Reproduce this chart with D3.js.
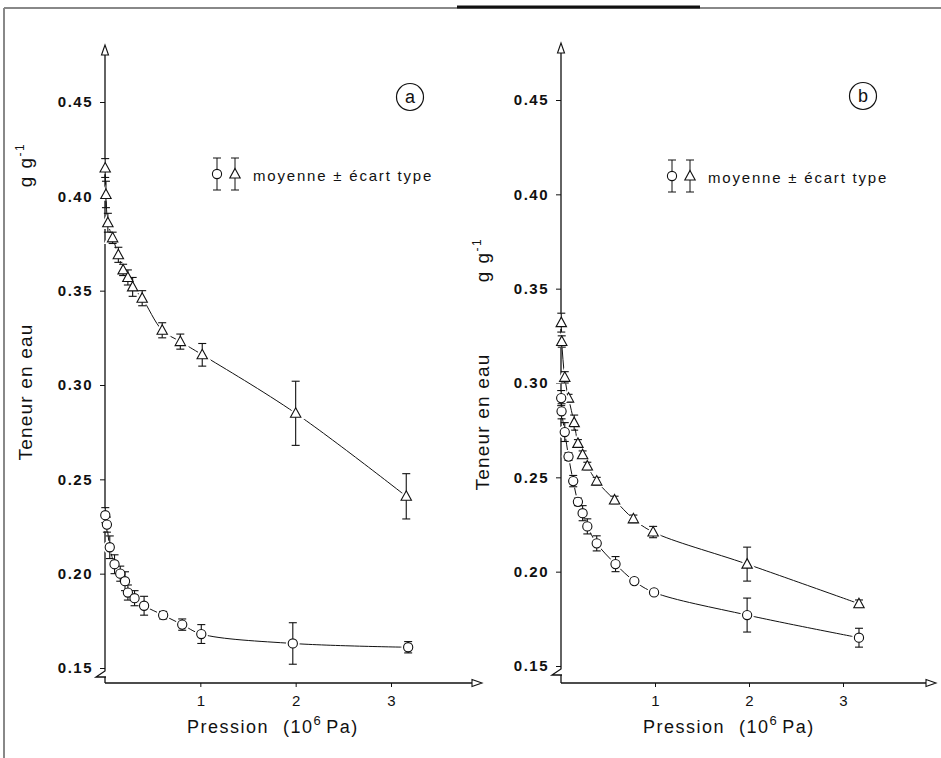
<!DOCTYPE html>
<html>
<head>
<meta charset="utf-8">
<script src="https://cdn.jsdelivr.net/npm/d3@7"></script>
<style>
  body { margin: 0; background: #fff; }
  svg { display: block; font-family: "Liberation Sans", Arial, sans-serif; }
</style>
</head>
<body>
<div id="chart"></div>
<script>
// values: pression (10^6 Pa), teneur en eau (g/g), écart type
const pressA_tri = [0.002, 0.01, 0.03, 0.08, 0.14, 0.19, 0.24, 0.29, 0.39, 0.6, 0.79, 1.02, 2.0, 3.16];
const eauA_tri   = [0.415, 0.401, 0.386, 0.378, 0.369, 0.361, 0.357, 0.352, 0.346, 0.329, 0.323, 0.316, 0.285, 0.241];
const sdA_tri    = [0.005, 0.007, 0.005, 0.003, 0.004, 0.003, 0.004, 0.005, 0.004, 0.004, 0.004, 0.006, 0.017, 0.012];

const pressA_circ = [0.003, 0.02, 0.05, 0.1, 0.16, 0.21, 0.24, 0.31, 0.41, 0.61, 0.81, 1.01, 1.97, 3.18];
const eauA_circ   = [0.231, 0.226, 0.214, 0.205, 0.200, 0.196, 0.190, 0.187, 0.183, 0.178, 0.173, 0.168, 0.163, 0.161];
const sdA_circ    = [0.004, 0.004, 0.006, 0.005, 0.004, 0.005, 0.004, 0.004, 0.005, 0.002, 0.003, 0.005, 0.011, 0.003];

const pressB_tri = [0.003, 0.008, 0.04, 0.08, 0.14, 0.18, 0.23, 0.28, 0.38, 0.57, 0.77, 0.98, 1.98, 3.17];
const eauB_tri   = [0.332, 0.322, 0.303, 0.292, 0.279, 0.268, 0.262, 0.256, 0.248, 0.238, 0.228, 0.221, 0.204, 0.183];
const sdB_tri    = [0.005, 0.003, 0.003, 0.002, 0.004, 0.002, 0.002, 0.002, 0.002, 0.002, 0.002, 0.003, 0.009, 0.002];

const pressB_circ = [0.002, 0.006, 0.04, 0.08, 0.13, 0.18, 0.23, 0.28, 0.38, 0.58, 0.78, 0.99, 1.98, 3.17];
const eauB_circ   = [0.292, 0.285, 0.274, 0.261, 0.248, 0.237, 0.231, 0.224, 0.215, 0.204, 0.195, 0.189, 0.177, 0.165];
const sdB_circ    = [0.004, 0.004, 0.005, 0.002, 0.003, 0.002, 0.004, 0.004, 0.004, 0.004, 0.001, 0.001, 0.009, 0.005];

const yTicks = [0.15, 0.20, 0.25, 0.30, 0.35, 0.40, 0.45];
const xTicks = [1, 2, 3];
const legendText = "moyenne \u00b1 \u00e9cart type";

const svg = d3.select("#chart").append("svg")
  .attr("width", 941)
  .attr("height", 758);

svg.append("rect").attr("width", 941).attr("height", 758).attr("fill", "#fff");

// page frame from the scan
svg.append("line").attr("x1", 4).attr("y1", 8).attr("x2", 941).attr("y2", 8)
  .attr("stroke", "#888").attr("stroke-width", 2);
svg.append("line").attr("x1", 457).attr("y1", 7).attr("x2", 700).attr("y2", 7)
  .attr("stroke", "#111").attr("stroke-width", 3);
svg.append("line").attr("x1", 4).attr("y1", 8).attr("x2", 4).attr("y2", 758)
  .attr("stroke", "#888").attr("stroke-width", 2);

const triPath = "M0,-5.5L5.2,4L-5.2,4Z";

function marker(sel, kind) {
  if (kind === "tri") return sel.append("path").attr("d", triPath);
  return sel.append("circle").attr("r", 4.6);
}

function drawPanel(p) {
  const g = svg.append("g");

  const x = d3.scaleLinear().domain([0, 3]).range([p.x0, p.x3]);
  const y = d3.scaleLinear().domain([0.15, 0.45]).range([p.y15, p.y45]);

  // y axis: ticks and labels
  const ya = g.append("g")
    .attr("transform", `translate(${p.x0},0)`)
    .call(d3.axisLeft(y).tickValues(yTicks).tickFormat(d3.format(".2f")).tickSize(5).tickPadding(7));
  ya.select(".domain").remove();
  ya.selectAll("line").attr("stroke", "#111");
  ya.selectAll("text")
    .attr("fill", "#111")
    .style("font-family", "'Liberation Sans', Arial, sans-serif")
    .style("font-size", "15px")
    .style("font-weight", "bold")
    .style("letter-spacing", "1.5px");

  // y axis line with break and arrow
  g.append("path")
    .attr("d", `M${p.x0},${p.axisTop + 10}L${p.x0},${p.y15 + 3}L${p.x0 - 9},${p.y15 + 9}L${p.x0 + 1},${p.y15 + 9}M${p.x0},${p.y15 + 9}L${p.x0},${p.xAxisY}`)
    .attr("fill", "none").attr("stroke", "#111").attr("stroke-width", 1.3);
  g.append("path")
    .attr("d", `M${p.x0},${p.axisTop}L${p.x0 + 3.5},${p.axisTop + 10}L${p.x0 - 3.5},${p.axisTop + 10}Z`)
    .attr("fill", "#fff").attr("stroke", "#111").attr("stroke-width", 1.1);

  // x axis
  const xa = g.append("g")
    .attr("transform", `translate(0,${p.xAxisY})`)
    .call(d3.axisBottom(x).tickValues(xTicks).tickFormat(d3.format("d")).tickSize(4).tickPadding(8));
  xa.select(".domain").remove();
  xa.selectAll("line").attr("stroke", "#111");
  xa.selectAll("text")
    .attr("fill", "#111")
    .style("font-family", "'Liberation Sans', Arial, sans-serif")
    .style("font-size", "15px");
  g.append("line")
    .attr("x1", p.x0).attr("y1", p.xAxisY).attr("x2", p.xEnd - 10).attr("y2", p.xAxisY)
    .attr("stroke", "#111").attr("stroke-width", 1.3);
  g.append("path")
    .attr("d", `M${p.xEnd},${p.xAxisY}L${p.xEnd - 10},${p.xAxisY - 3.5}L${p.xEnd - 10},${p.xAxisY + 3.5}Z`)
    .attr("fill", "#fff").attr("stroke", "#111").attr("stroke-width", 1.1);

  // axis titles
  const xt = g.append("text")
    .attr("x", p.x0 + 82).attr("y", 733)
    .attr("fill", "#111")
    .style("font-size", "18px")
    .style("letter-spacing", "1.5px");
  xt.append("tspan").text("Pression");
  xt.append("tspan").attr("dx", 14).text("(10");
  xt.append("tspan").attr("dy", -8).style("font-size", "13px").text("6");
  xt.append("tspan").attr("dy", 8).attr("dx", 4).text("Pa)");

  g.append("text")
    .attr("transform", `translate(${p.labX},${p.tenY}) rotate(-90)`)
    .attr("text-anchor", "middle")
    .attr("fill", "#111")
    .style("font-size", "19px")
    .style("letter-spacing", "1.2px")
    .text("Teneur en eau");

  const gt = g.append("text")
    .attr("transform", `translate(${p.labX},${p.ggY}) rotate(-90)`)
    .attr("text-anchor", "middle")
    .attr("fill", "#111")
    .style("font-size", "19px")
    .style("letter-spacing", "1.5px");
  gt.append("tspan").text("g g");
  gt.append("tspan").attr("dy", -8).style("font-size", "12px").text("-1");

  // panel letter
  g.append("circle").attr("cx", p.letterX).attr("cy", p.letterY).attr("r", 13.5)
    .attr("fill", "none").attr("stroke", "#111").attr("stroke-width", 1.2);
  g.append("text").attr("x", p.letterX).attr("y", p.letterY + 6)
    .attr("text-anchor", "middle").attr("fill", "#111")
    .style("font-size", "18px").text(p.letter);

  // legend
  [["circ", p.legX], ["tri", p.legX + 18]].forEach(([kind, lx]) => {
    const lg = g.append("g").attr("transform", `translate(${lx},${p.legY})`);
    lg.append("line").attr("y1", -16).attr("y2", 16).attr("stroke", "#111");
    lg.append("line").attr("x1", -4).attr("x2", 4).attr("y1", -16).attr("y2", -16).attr("stroke", "#111");
    lg.append("line").attr("x1", -4).attr("x2", 4).attr("y1", 16).attr("y2", 16).attr("stroke", "#111");
    marker(lg, kind).attr("fill", "#fff").attr("stroke", "#111").attr("stroke-width", 1.1);
  });
  g.append("text")
    .attr("x", p.legX + 36).attr("y", p.legY + 7)
    .attr("fill", "#111")
    .style("font-size", "15px")
    .style("letter-spacing", "1.8px")
    .text(legendText);

  // series
  const line = d3.line()
    .x(d => x(d.p))
    .y(d => y(d.v))
    .curve(d3.curveCatmullRom.alpha(0.5));

  p.series.forEach(s => {
    const pts = s.press.map((v, i) => ({ p: v, v: s.eau[i], sd: s.sd[i] }));

    g.append("path").datum(pts)
      .attr("d", line)
      .attr("fill", "none")
      .attr("stroke", "#111")
      .attr("stroke-width", 1);

    // white halo so the curve stops short of each marker
    pts.forEach(d => {
      marker(g, s.kind)
        .attr("transform", `translate(${x(d.p)},${y(d.v)})`)
        .attr("fill", "#fff").attr("stroke", "#fff").attr("stroke-width", 4.5);
    });

    pts.forEach(d => {
      const cx = x(d.p);
      const eb = g.append("g").attr("stroke", "#111").attr("stroke-width", 1.1);
      eb.append("line").attr("x1", cx).attr("x2", cx).attr("y1", y(d.v + d.sd)).attr("y2", y(d.v - d.sd));
      eb.append("line").attr("x1", cx - 4).attr("x2", cx + 4).attr("y1", y(d.v + d.sd)).attr("y2", y(d.v + d.sd));
      eb.append("line").attr("x1", cx - 4).attr("x2", cx + 4).attr("y1", y(d.v - d.sd)).attr("y2", y(d.v - d.sd));
    });

    pts.forEach(d => {
      marker(g, s.kind)
        .attr("transform", `translate(${x(d.p)},${y(d.v)})`)
        .attr("fill", "#fff").attr("stroke", "#111").attr("stroke-width", 1.1);
    });
  });
}

drawPanel({
  x0: 105, x3: 391, xEnd: 482, y15: 668, y45: 102, axisTop: 45, xAxisY: 683,
  labX: 32, tenY: 392, ggY: 165,
  letter: "a", letterX: 410, letterY: 97,
  legX: 217, legY: 174,
  series: [
    { kind: "tri", press: pressA_tri, eau: eauA_tri, sd: sdA_tri },
    { kind: "circ", press: pressA_circ, eau: eauA_circ, sd: sdA_circ }
  ]
});

drawPanel({
  x0: 561, x3: 843, xEnd: 936, y15: 666, y45: 100, axisTop: 43, xAxisY: 683,
  labX: 489, tenY: 422, ggY: 260,
  letter: "b", letterX: 863, letterY: 96,
  legX: 672, legY: 176,
  series: [
    { kind: "tri", press: pressB_tri, eau: eauB_tri, sd: sdB_tri },
    { kind: "circ", press: pressB_circ, eau: eauB_circ, sd: sdB_circ }
  ]
});
</script>
</body>
</html>
